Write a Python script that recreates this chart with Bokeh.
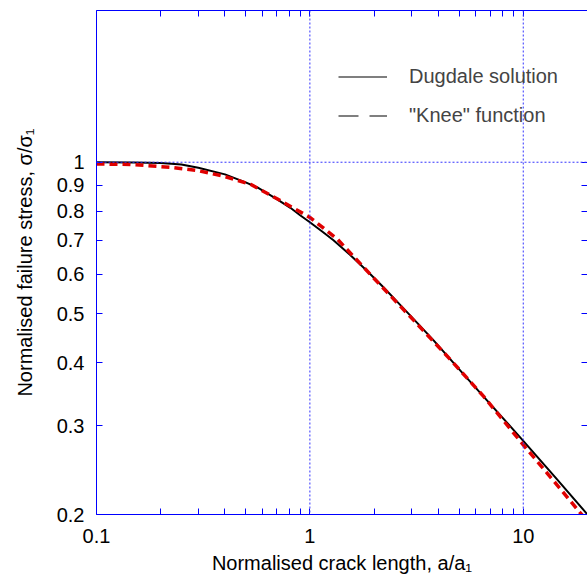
from bokeh.plotting import figure
from bokeh.models import (LogAxis, FixedTicker, CustomJSTickFormatter, Legend,
                          LegendItem, Range1d, Span)
from bokeh.embed import file_html
from bokeh.resources import INLINE

# Dugdale solution
dug_x = [0.1, 0.15, 0.2, 0.25, 0.3, 0.4, 0.5, 0.57, 0.7, 0.81, 0.9, 1.0, 1.15,
         1.29, 1.55, 1.85, 2.2, 2.65, 3.2, 3.8, 5.45, 6.76, 10, 14, 20]
dug_y = [1.0, 0.999, 0.996, 0.99, 0.975, 0.946, 0.912, 0.89, 0.845, 0.812,
         0.785, 0.760, 0.727, 0.700, 0.654, 0.609, 0.566, 0.521, 0.479, 0.443,
         0.373, 0.337, 0.280, 0.238, 0.2]

# "Knee" function
knee_x = [0.1, 0.144, 0.222, 0.296, 0.395, 0.527, 0.702, 0.935, 1.0, 1.34, 2.0,
          3.06, 4.55, 6.52, 10, 12.9, 18.5, 20]
knee_y = [0.992, 0.99, 0.977, 0.963, 0.938, 0.904, 0.846, 0.790, 0.777, 0.705,
          0.588, 0.486, 0.406, 0.343, 0.275, 0.242, 0.2015, 0.194]

x_major = [0.1, 1, 10]
x_minor = [0.2, 0.3, 0.4, 0.5, 0.6, 0.7, 0.8, 0.9, 2, 3, 4, 5, 6, 7, 8, 9, 20]
y_ticks = [0.2, 0.3, 0.4, 0.5, 0.6, 0.7, 0.8, 0.9, 1]
x_grid = [1, 10]
y_grid = [1]

FONT = "Liberation Sans"
AX = "#0000ff"
GRID = "#3333ff"

p = figure(width=587, height=576, x_axis_type="log", y_axis_type="log",
           x_range=Range1d(0.1, 20), y_range=Range1d(0.2, 2),
           output_backend="svg", toolbar_location=None,
           min_border_left=96, min_border_right=0, min_border_top=10,
           min_border_bottom=61)
p.outline_line_color = None
p.background_fill_color = "white"
p.border_fill_color = "white"

label_fmt = CustomJSTickFormatter(code="return String(tick)")

def style(ax):
    ax.axis_line_color = AX
    ax.major_tick_line_color = AX
    ax.minor_tick_line_color = AX
    ax.major_tick_in = 6
    ax.major_tick_out = 0
    ax.minor_tick_in = 6
    ax.minor_tick_out = 0
    ax.major_label_text_font = FONT
    ax.major_label_text_font_size = "20px"
    ax.major_label_text_color = "black"
    ax.axis_label_text_font = FONT
    ax.axis_label_text_font_size = "20px"
    ax.axis_label_text_font_style = "normal"
    ax.axis_label_text_color = "black"

xa = p.xaxis[0]
style(xa)
xa.ticker = FixedTicker(ticks=x_major, minor_ticks=x_minor)
xa.formatter = label_fmt
xa.major_label_standoff = 14
xa.axis_label = "Normalised crack length, a/a\u2081"
xa.axis_label_standoff = 6

ya = p.yaxis[0]
style(ya)
ya.ticker = FixedTicker(ticks=y_ticks)
ya.formatter = label_fmt
ya.major_label_standoff = 12
ya.axis_label = "Normalised failure stress, \u03c3/\u03c3\u2081"
ya.axis_label_standoff = 18

empty_fmt = CustomJSTickFormatter(code="return ''")

top = LogAxis(ticker=FixedTicker(ticks=x_major, minor_ticks=x_minor),
              formatter=empty_fmt)
style(top)
top.major_label_text_font_size = "0px"
top.major_label_standoff = 0
p.add_layout(top, "above")

right = LogAxis(ticker=FixedTicker(ticks=y_ticks), formatter=empty_fmt)
style(right)
right.major_label_text_font_size = "0px"
right.major_label_standoff = 0
p.add_layout(right, "right")

# grid: only the dotted lines at x = 1, 10 and y = 1
p.xgrid.visible = False
p.ygrid.visible = False
for v in x_grid:
    p.add_layout(Span(location=v, dimension="height", line_color=GRID,
                      line_width=1, line_dash="2 2"))
for v in y_grid:
    p.add_layout(Span(location=v, dimension="width", line_color=GRID,
                      line_width=1, line_dash="2 2"))

p.line(dug_x, dug_y, line_color="black", line_width=2)
p.line(knee_x, knee_y, line_color="#e00000", line_width=3.5, line_dash="8 5")

nan = float("nan")
d1 = p.line([nan], [nan], line_color="black", line_width=1.2)
d2 = p.line([nan], [nan], line_color="black", line_width=1.2, line_dash="20 11")

legend = Legend(items=[LegendItem(label="Dugdale solution", renderers=[d1]),
                       LegendItem(label='"Knee" function', renderers=[d2])],
                location=(242, 387), orientation="vertical",
                border_line_color=None, background_fill_alpha=0,
                padding=0, margin=0, glyph_width=49, glyph_height=23,
                label_height=23, label_standoff=22, spacing=16,
                label_text_font=FONT, label_text_font_size="20px")
p.add_layout(legend)

open("out.html", "w").write(file_html(p, INLINE))
